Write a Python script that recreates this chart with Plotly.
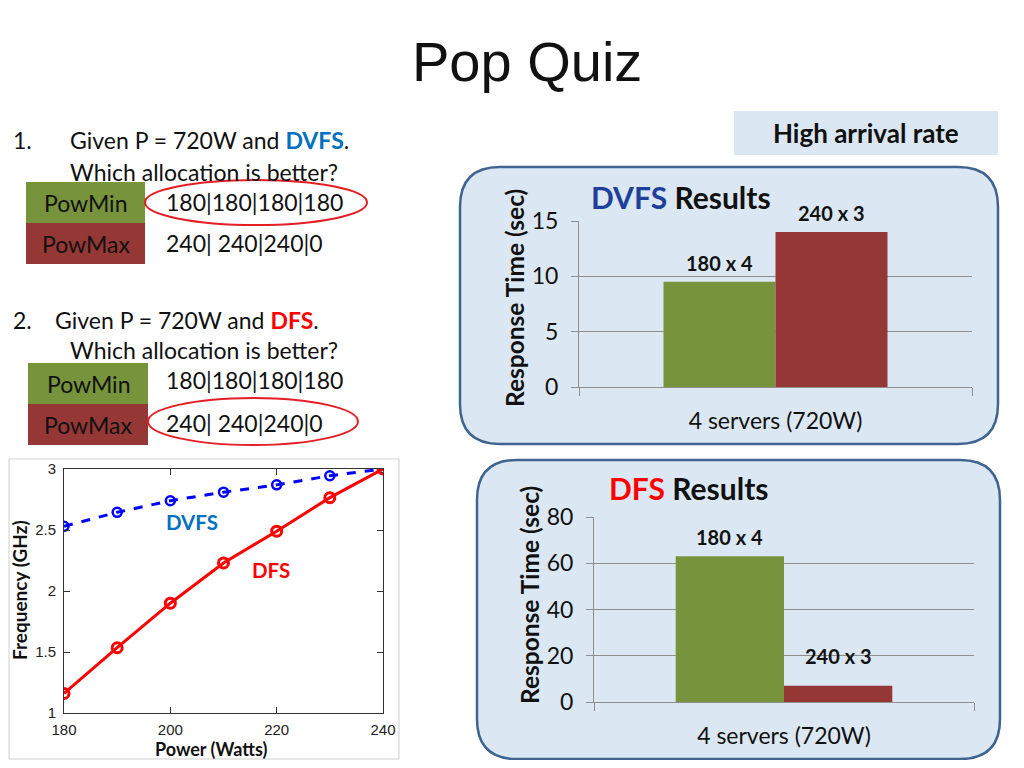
import plotly.graph_objects as go

# frequency vs power curves (left plot)
power = [180, 190, 200, 210, 220, 230, 240]
freq_dvfs = [2.53, 2.645, 2.74, 2.81, 2.87, 2.945, 3.0]
freq_dfs = [1.16, 1.535, 1.90, 2.23, 2.49, 2.765, 3.0]

# response time bars (right plots)
category = ['4 servers (720W)']
alloc_labels = ['180 x 4', '240 x 3']
dvfs_resp = [9.5, 14.0]
dfs_resp = [63, 7]

# page body has an 8px margin, so the figure is a bit smaller than the window
OFF = 8
W, H = 1024 - 2 * OFF, 768 - 2 * OFF
BODY = 'Lato'
GREEN = '#77933C'
RED = '#953735'
GRID = '#8E8E8E'
BARGAP = 0.43


def px(x):
    return (x - OFF) / W


def py(y):
    return 1 - (y - OFF) / H


def rrect(x0, y0, x1, y1, r):
    # rounded rectangle path in paper coords (input in window pixels)
    pts = [
        f"M {px(x0 + r)},{py(y0)}", f"L {px(x1 - r)},{py(y0)}",
        f"Q {px(x1)},{py(y0)} {px(x1)},{py(y0 + r)}", f"L {px(x1)},{py(y1 - r)}",
        f"Q {px(x1)},{py(y1)} {px(x1 - r)},{py(y1)}", f"L {px(x0 + r)},{py(y1)}",
        f"Q {px(x0)},{py(y1)} {px(x0)},{py(y1 - r)}", f"L {px(x0)},{py(y0 + r)}",
        f"Q {px(x0)},{py(y0)} {px(x0 + r)},{py(y0)}", "Z",
    ]
    return ' '.join(pts)


fig = go.Figure()

# left plot
fig.add_trace(go.Scatter(x=power, y=freq_dvfs, mode='lines+markers', xaxis='x', yaxis='y',
                         line=dict(color='#0000FF', width=3, dash='dash'),
                         marker=dict(symbol='circle-open', size=9, color='#0000FF', line=dict(width=2.5))))
fig.add_trace(go.Scatter(x=power, y=freq_dfs, mode='lines+markers', xaxis='x', yaxis='y',
                         line=dict(color='#FF0000', width=3),
                         marker=dict(symbol='circle-open', size=10, color='#FF0000', line=dict(width=3))))

# bar plots
for vals, xa, ya in [(dvfs_resp, 'x2', 'y2'), (dfs_resp, 'x3', 'y3')]:
    for i, col in enumerate([GREEN, RED]):
        fig.add_trace(go.Bar(x=category, y=[vals[i]], xaxis=xa, yaxis=ya,
                             marker=dict(color=col, line=dict(width=0))))

shapes = []
ann = []

# frame of the matlab figure
shapes.append(dict(type='rect', xref='paper', yref='paper', x0=px(9), x1=px(399), y0=py(759), y1=py(459),
                   line=dict(color='#CFCFCF', width=1), fillcolor='white', layer='below'))

# blue rounded boxes behind the bar charts
for b in [(460, 167, 998, 444), (477, 460, 1000, 759)]:
    shapes.append(dict(type='path', xref='paper', yref='paper', path=rrect(*b, 40),
                       fillcolor='#DBE8F3', line=dict(color='#3F6490', width=2.5), layer='below'))

# "High arrival rate" label box
shapes.append(dict(type='rect', xref='paper', yref='paper', x0=px(734), x1=px(998), y0=py(155), y1=py(111),
                   fillcolor='#DBE8F3', line=dict(width=0), layer='below'))
ann.append(dict(x=px(866), y=py(133), text='<b>High arrival rate</b>', font=dict(size=26)))

# title
ann.append(dict(x=px(527), y=py(62), text='Pop Quiz', font=dict(family='Liberation Sans', size=56)))

# questions
q_rows = [
    (140, '1.', 68, "Given P = 720W and <b><span style='color:#0070C0'>DVFS</span></b>."),
    (320, '2.', 53, "Given P = 720W and <b><span style='color:#FF0000'>DFS</span></b>."),
]
for yy, num, xs, txt in q_rows:
    ann.append(dict(x=px(11), y=py(yy), text=num, xanchor='left'))
    ann.append(dict(x=px(xs), y=py(yy), text=txt, xanchor='left'))
for yy in [172, 350]:
    ann.append(dict(x=px(68), y=py(yy), text='Which allocation is better?', xanchor='left'))

# PowMin / PowMax boxes
for x0, x1, top in [(26, 145, 182), (28, 148, 363)]:
    mid = top + 41
    shapes.append(dict(type='rect', xref='paper', yref='paper', x0=px(x0), x1=px(x1), y0=py(mid), y1=py(top),
                       fillcolor=GREEN, line=dict(width=0)))
    shapes.append(dict(type='rect', xref='paper', yref='paper', x0=px(x0), x1=px(x1), y0=py(mid + 41), y1=py(mid),
                       fillcolor=RED, line=dict(width=0)))
    ann.append(dict(x=px((x0 + x1) / 2), y=py(top + 21), text='PowMin'))
    ann.append(dict(x=px((x0 + x1) / 2), y=py(mid + 21), text='PowMax'))

for yy, txt in [(202, '180|180|180|180'), (243, '240| 240|240|0'),
                (380, '180|180|180|180'), (423, '240| 240|240|0')]:
    ann.append(dict(x=px(164), y=py(yy), text=txt, xanchor='left'))

# red ellipses
for x0, x1, y0, y1 in [(145, 367, 180, 225), (148, 358, 398, 445)]:
    shapes.append(dict(type='circle', xref='paper', yref='paper', x0=px(x0), x1=px(x1), y0=py(y1), y1=py(y0),
                       line=dict(color='#E31E24', width=2)))

# left plot labels
ann.append(dict(x=204.1, y=2.566, xref='x', yref='y', text='<b>DVFS</b>', font=dict(size=20.5, color='#0070C0')))
ann.append(dict(x=218.9, y=2.17, xref='x', yref='y', text='<b>DFS</b>', font=dict(size=20.5, color='#FF0000')))
ann.append(dict(x=px(211), y=py(749), text='<b>Power (Watts)</b>', font=dict(size=18)))
ann.append(dict(x=px(19), y=py(590), text='<b>Frequency (GHz)</b>', textangle=-90, font=dict(size=19)))

# bar chart titles and labels
ann.append(dict(x=px(589), y=py(197), xanchor='left',
                text="<b><span style='color:#203F9A'>DVFS</span> Results</b>", font=dict(size=30)))
ann.append(dict(x=px(607), y=py(488), xanchor='left',
                text="<b><span style='color:#FF0000'>DFS</span> Results</b>", font=dict(size=30)))
ann.append(dict(x=px(514), y=py(298), text='<b>Response Time (sec)</b>', textangle=-90, font=dict(size=24.5)))
ann.append(dict(x=px(529), y=py(595), text='<b>Response Time (sec)</b>', textangle=-90, font=dict(size=24.5)))

off = (1 - BARGAP) / 4
for vals, xa, ya, shifts in [(dvfs_resp, 'x2', 'y2', [19, 19]), (dfs_resp, 'x3', 'y3', [19, 30])]:
    for i, lab in enumerate(alloc_labels):
        ann.append(dict(x=(-off if i == 0 else off), y=vals[i], xref=xa, yref=ya, yshift=shifts[i],
                        text='<b>' + lab + '</b>', font=dict(size=20)))

for a in ann:
    a.setdefault('xref', 'paper')
    a.setdefault('yref', 'paper')
    a.setdefault('showarrow', False)
    a.setdefault('xanchor', 'center')
    a.setdefault('yanchor', 'middle')
    a.setdefault('font', dict(size=23))
    a['font'].setdefault('family', BODY)
    a['font'].setdefault('color', '#111111')

matlab_axis = dict(showline=True, linecolor='#333333', linewidth=1, mirror='ticks', ticks='inside',
                   ticklen=6, tickcolor='#333333', showgrid=False, zeroline=False,
                   tickfont=dict(family='Liberation Sans', size=15, color='#222222'))

bar_y = dict(showgrid=True, gridcolor=GRID, gridwidth=1, showline=True, linecolor=GRID, ticks='outside',
             ticklen=7, tickcolor=GRID, zeroline=False, ticklabelstandoff=8,
             tickfont=dict(family=BODY, size=23, color='#111111'))
bar_x = dict(showline=True, linecolor=GRID, ticks='outside', tickson='boundaries', ticklen=8,
             tickcolor=GRID, ticklabelstandoff=13, tickfont=dict(family=BODY, size=23, color='#111111'))

fig.update_layout(
    width=W, height=H, margin=dict(l=0, r=0, t=0, b=0, autoexpand=False),
    paper_bgcolor='white', plot_bgcolor='rgba(0,0,0,0)',
    showlegend=False, barmode='group', bargap=BARGAP, bargroupgap=0,
    xaxis=dict(domain=[px(64), px(383)], range=[180, 240], tickvals=[180, 200, 220, 240], anchor='y',
               ticklabelstandoff=3, **matlab_axis),
    yaxis=dict(domain=[py(713), py(469)], range=[1, 3], tickvals=[1, 1.5, 2, 2.5, 3], anchor='x',
               ticklabelstandoff=4, **matlab_axis),
    xaxis2=dict(domain=[px(579), px(972)], anchor='y2', **bar_x),
    yaxis2=dict(domain=[py(387), py(221)], range=[0, 15], tickvals=[0, 5, 10, 15], anchor='x2', **bar_y),
    xaxis3=dict(domain=[px(594), px(974)], anchor='y3', **bar_x),
    yaxis3=dict(domain=[py(702), py(517)], range=[0, 80], tickvals=[0, 20, 40, 60, 80], anchor='x3', **bar_y),
    shapes=shapes, annotations=ann,
)

fig.write_html("out.html")
